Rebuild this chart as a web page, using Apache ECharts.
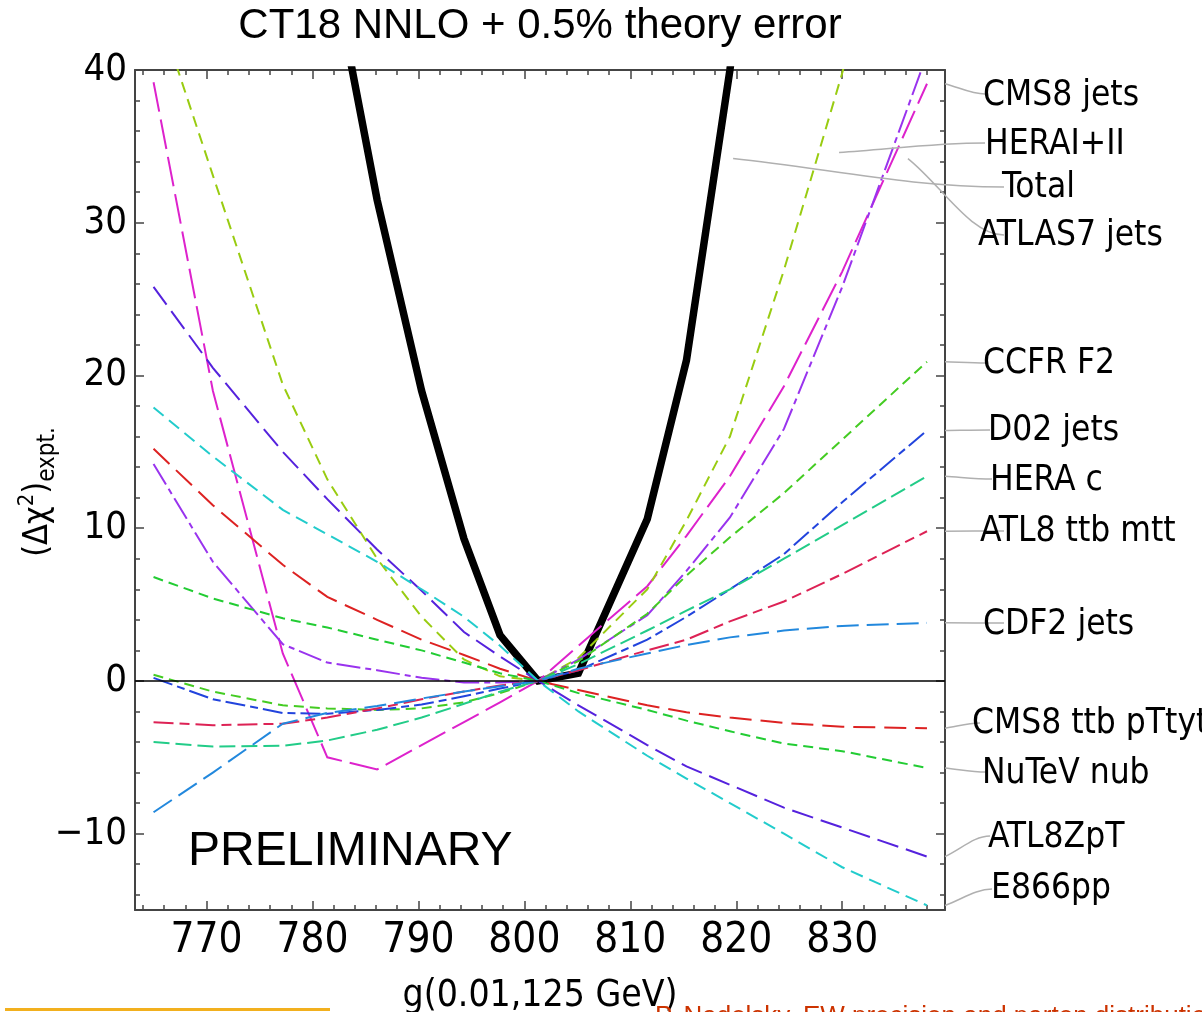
<!DOCTYPE html>
<html>
<head>
<meta charset="utf-8">
<script src="https://cdn.jsdelivr.net/npm/echarts@6/dist/echarts.min.js"></script>
<style>
  html, body { margin: 0; padding: 0; background: #fff; }
  #chart { width: 1202px; height: 1012px; }
</style>
</head>
<body>
<div id="chart"></div>
<script>
// scan points, g(0.01,125 GeV)
const gValues = [765.0, 770.6, 777.2, 781.4, 786.1, 790.3, 794.3, 797.7, 801.3, 805.1, 811.6, 815.3, 819.4, 824.5, 830.0, 838.0];

// (delta chi^2)_expt. per experiment, same order as gValues
const totalChi2   = [null, null, null, 48.5, 31.5, 19.0, 9.3, 3.0, 0.0, 0.5, 10.6, 21.0, 40.0, 68.0, null, null];
const cms8Jets    = [39.2, 19.0, 1.8, -5.0, -5.8, -4.2, -2.7, -1.4, 0.0, 2.3, 6.2, 9.5, 13.4, 19.3, 26.8, 39.1];
const heraI_II    = [44.8, 33.1, 19.4, 13.2, 8.0, 4.2, 1.4, 0.3, 0.0, 1.5, 6.0, 10.5, 16.0, 26.9, 39.8, 62.0];
const atlas7Jets  = [14.2, 7.8, 2.4, 1.2, 0.7, 0.2, -0.1, -0.1, 0.0, 1.4, 4.3, 7.2, 10.7, 16.5, 25.8, 41.0];
const ccfrF2      = [0.4, -0.7, -1.6, -1.8, -1.9, -1.8, -1.4, -0.8, 0.0, 1.3, 4.4, 6.9, 9.4, 12.3, 15.8, 20.9];
const d02Jets     = [0.2, -1.2, -2.1, -2.15, -1.9, -1.55, -1.0, -0.5, 0.0, 0.7, 2.7, 4.2, 6.0, 8.3, 11.7, 16.4];
const heraC       = [-4.0, -4.3, -4.25, -3.9, -3.2, -2.4, -1.5, -0.7, 0.0, 1.1, 3.3, 4.6, 6.0, 8.0, 10.2, 13.4];
const atl8TtbMtt  = [-2.7, -2.9, -2.8, -2.4, -1.8, -1.2, -0.7, -0.3, 0.0, 0.7, 2.0, 2.7, 3.9, 5.2, 7.0, 9.8];
const cdf2Jets    = [-8.6, -6.0, -2.8, -2.1, -1.65, -1.15, -0.7, -0.35, 0.0, 0.8, 1.8, 2.35, 2.85, 3.3, 3.6, 3.8];
const cms8TtbPtyt = [15.2, 11.5, 7.6, 5.5, 4.0, 2.7, 1.7, 0.8, 0.0, -0.6, -1.6, -2.05, -2.4, -2.75, -3.0, -3.1];
const nutevNub    = [6.8, 5.4, 4.1, 3.5, 2.7, 2.0, 1.2, 0.5, 0.0, -0.8, -1.9, -2.6, -3.3, -4.1, -4.6, -5.7];
const atl8ZpT     = [25.8, 20.5, 15.0, 11.9, 8.6, 5.9, 3.2, 1.6, 0.0, -1.6, -4.2, -5.6, -6.8, -8.3, -9.6, -11.5];
const e866pp      = [17.9, 14.7, 11.2, 9.6, 7.8, 6.0, 4.2, 2.3, 0.0, -2.0, -4.9, -6.4, -8.0, -10.0, -12.2, -14.7];

const seriesNames = ['Total', 'CMS8 jets', 'HERAI+II', 'ATLAS7 jets', 'CCFR F2', 'D02 jets', 'HERA c',
  'ATL8 ttb mtt', 'CDF2 jets', 'CMS8 ttb pTtyt', 'NuTeV nub', 'ATL8ZpT', 'E866pp'];
const seriesValues = [totalChi2, cms8Jets, heraI_II, atlas7Jets, ccfrF2, d02Jets, heraC,
  atl8TtbMtt, cdf2Jets, cms8TtbPtyt, nutevNub, atl8ZpT, e866pp];

// tick labels
const xTickValues = [770, 780, 790, 800, 810, 820, 830];
const yTickValues = [-10, 0, 10, 20, 30, 40];

// where each callout leader leaves its curve (g, chi2)
const calloutG    = [839.7, 829.7, 819.7, 836.2, 839.7, 839.7, 839.7, 839.7, 839.7, 839.7, 839.7, 839.7, 839.7];
const calloutChi2 = [39.1, 34.6, 34.2, 34.2, 20.9, 16.4, 13.4, 9.8, 3.8, -3.1, -5.7, -11.5, -14.7];
const calloutText = ['CMS8 jets', 'HERAI+II', 'Total', 'ATLAS7 jets', 'CCFR F2', 'D02 jets', 'HERA c',
  'ATL8 ttb mtt', 'CDF2 jets', 'CMS8 ttb pTtyt', 'NuTeV nub', 'ATL8ZpT', 'E866pp'];

// ---- styling / layout ----
const NARROW = "'Liberation Sans Narrow', 'DejaVu Sans Condensed', 'Arial Narrow', sans-serif";
const SANS = "'Liberation Sans', Arial, sans-serif";
const X_MIN = 763.25, X_MAX = 839.7, Y_MIN = -15, Y_MAX = 40;
const FRAME = '#444';

const lineStyles = [
  { color: '#000000', width: 7.5, type: 'solid' },
  { color: '#dd22cc', width: 2, type: [30, 8] },
  { color: '#99cc11', width: 2, type: [11, 7] },
  { color: '#9933ee', width: 2, type: [24, 5, 6, 5] },
  { color: '#44cc22', width: 2, type: [10, 6] },
  { color: '#2244dd', width: 2, type: [20, 5, 8, 5] },
  { color: '#22cc88', width: 2, type: [16, 6] },
  { color: '#dd2255', width: 2, type: [20, 6, 10, 6] },
  { color: '#2288dd', width: 2, type: [22, 8] },
  { color: '#dd2222', width: 2, type: [22, 9] },
  { color: '#22cc33', width: 2, type: [10, 6] },
  { color: '#5522dd', width: 2, type: [22, 8] },
  { color: '#22cccc', width: 2, type: [13, 7] }
];

// label text anchor [left x, center y] and leader end point, pixels
const calloutLayout = [
  [983, 96, 985, 94], [985, 145, 985, 143], [1002, 188, 1004, 187], [978, 236, 1004, 235],
  [983, 364, 986, 363], [988, 431, 990, 430], [990, 481, 992, 479], [980, 532, 1004, 531],
  [983, 625, 1004, 623], [972, 724, 980, 723], [982, 774, 986, 772], [988, 838, 990, 836],
  [991, 889, 992, 889]
];

let xMinor = [], yMinor = [];
for (let v = 764; v <= 838; v += 2) if (v % 10 !== 0) xMinor.push(v);
for (let v = -14; v <= 38; v += 2) if (v % 10 !== 0) yMinor.push(v);

function xAxisCfg(position, ticks, len, withLabel, withLine) {
  return {
    type: 'value', position: position, min: X_MIN, max: X_MAX,
    splitLine: { show: false },
    axisLine: { show: withLine, onZero: false, lineStyle: { color: FRAME, width: 2 } },
    axisTick: { show: true, inside: true, length: len, customValues: ticks, lineStyle: { color: FRAME, width: 1.5 } },
    axisLabel: withLabel
      ? { show: true, customValues: ticks, color: '#000', fontFamily: NARROW, fontSize: 42, margin: 10 }
      : { show: false }
  };
}
function yAxisCfg(position, ticks, len, withLabel, withLine) {
  return {
    type: 'value', position: position, min: Y_MIN, max: Y_MAX,
    splitLine: { show: false },
    axisLine: { show: withLine, onZero: false, lineStyle: { color: FRAME, width: 2 } },
    axisTick: { show: true, inside: true, length: len, customValues: ticks, lineStyle: { color: FRAME, width: 1.5 } },
    axisLabel: withLabel
      ? { show: true, customValues: ticks, color: '#000', fontFamily: NARROW, fontSize: 38, margin: 8,
          formatter: v => String(v).replace('-', '\u2212') }
      : { show: false }
  };
}

const series = seriesNames.map((name, i) => ({
  name: name,
  type: 'line',
  xAxisIndex: 0,
  yAxisIndex: 0,
  data: gValues.map((g, j) => [g, seriesValues[i][j]]),
  symbol: 'none',
  showSymbol: false,
  clip: true,
  connectNulls: false,
  lineStyle: { color: lineStyles[i].color, width: lineStyles[i].width, type: lineStyles[i].type, join: 'miter', cap: 'butt' },
  silent: true,
  animation: false
}));

series[0].markLine = {
  silent: true,
  symbol: ['none', 'none'],
  label: { show: false },
  lineStyle: { color: '#000', width: 1.5, type: 'solid' },
  data: [{ yAxis: 0 }],
  animation: false
};

const option = {
  backgroundColor: '#ffffff',
  animation: false,
  grid: { left: 135, right: 257, top: 70, bottom: 102 },
  xAxis: [
    xAxisCfg('bottom', xTickValues, 9, true, true),
    xAxisCfg('bottom', xMinor, 5, false, false),
    xAxisCfg('top', xTickValues, 9, false, true),
    xAxisCfg('top', xMinor, 5, false, false)
  ],
  yAxis: [
    yAxisCfg('left', yTickValues, 9, true, true),
    yAxisCfg('left', yMinor, 5, false, false),
    yAxisCfg('right', yTickValues, 9, false, true),
    yAxisCfg('right', yMinor, 5, false, false)
  ],
  series: series
};

const chart = echarts.init(document.getElementById('chart'));
chart.setOption(option);

function buildGraphics() {
  const els = [];
  // title
  els.push({ type: 'text', x: 540, y: 26, z: 10,
    style: { text: 'CT18 NNLO + 0.5% theory error', fill: '#000', font: '42px ' + SANS, textAlign: 'center', textVerticalAlign: 'middle' } });
  // PRELIMINARY
  els.push({ type: 'text', x: 188, y: 852, z: 10,
    style: { text: 'PRELIMINARY', fill: '#000', font: '48px ' + SANS, textAlign: 'left', textVerticalAlign: 'middle' } });
  // x axis name
  els.push({ type: 'text', x: 540, y: 996, z: 10,
    style: { text: 'g(0.01,125 GeV)', fill: '#000', font: '37px ' + NARROW, textAlign: 'center', textVerticalAlign: 'middle' } });
  // y axis name
  els.push({ type: 'text', x: 38, y: 492, rotation: Math.PI / 2, z: 10,
    style: {
      text: '{m|(Δχ}{sup|2}{m|)}{sub|expt.}',
      textAlign: 'center', textVerticalAlign: 'middle', fill: '#000',
      rich: {
        m: { fontSize: 34, fontFamily: NARROW, lineHeight: 44, verticalAlign: 'middle' },
        sup: { fontSize: 22, fontFamily: NARROW, lineHeight: 22, verticalAlign: 'top' },
        sub: { fontSize: 24, fontFamily: NARROW, lineHeight: 24, verticalAlign: 'bottom' }
      }
    } });
  // callouts
  calloutText.forEach((txt, i) => {
    const a = chart.convertToPixel({ seriesIndex: 0 }, [calloutG[i], calloutChi2[i]]);
    const L = calloutLayout[i];
    const ex = L[2], ey = L[3];
    els.push({ type: 'bezierCurve', z: 5, silent: true,
      shape: {
        x1: a[0], y1: a[1], x2: ex, y2: ey,
        cpx1: a[0] + (ex - a[0]) * 0.35, cpy1: a[1] + (ey - a[1]) * 0.35,
        cpx2: ex - (ex - a[0]) * 0.35, cpy2: ey
      },
      style: { stroke: '#b0b0b0', lineWidth: 1.5, fill: null } });
    els.push({ type: 'text', x: L[0], y: L[1], z: 10,
      style: { text: txt, fill: '#000', font: '35px ' + NARROW, textAlign: 'left', textVerticalAlign: 'middle' } });
  });
  // footer of the slide
  els.push({ type: 'rect', shape: { x: 5, y: 1008, width: 325, height: 3 }, style: { fill: '#f2b01e' } });
  els.push({ type: 'text', x: 655, y: 1004, z: 10,
    style: { text: 'P. Nadolsky, EW precision and parton distributions', fill: '#cc3300', font: '26px ' + SANS, textAlign: 'left', textVerticalAlign: 'top' } });
  return els;
}

chart.setOption({ graphic: { elements: buildGraphics() } });
</script>
</body>
</html>
